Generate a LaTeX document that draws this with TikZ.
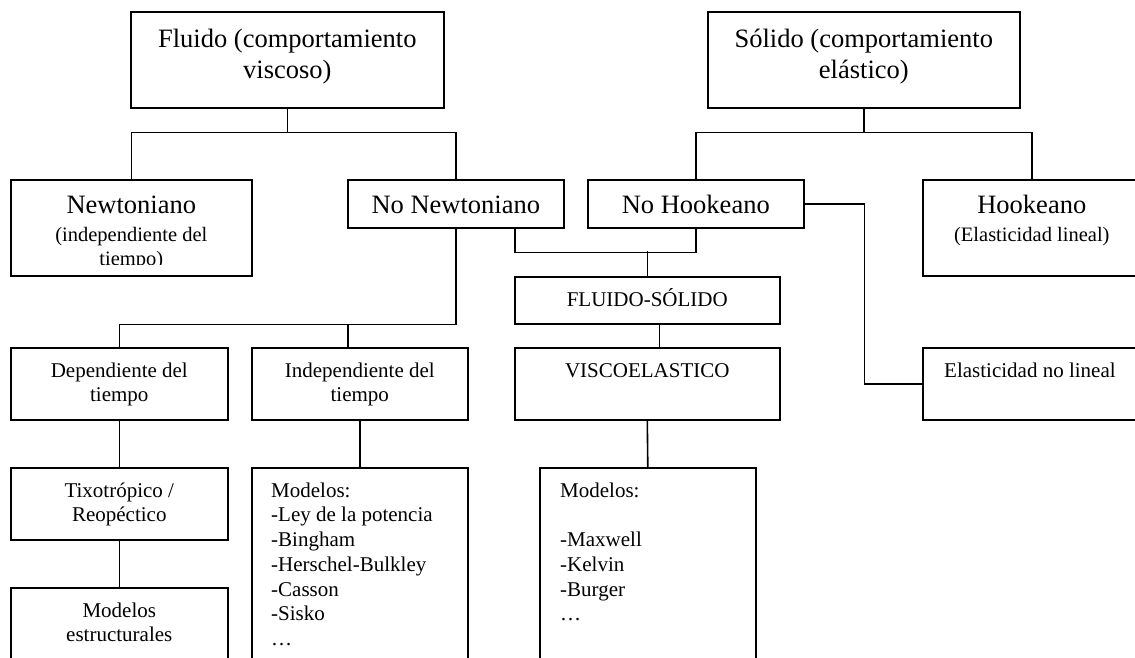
\documentclass[tikz,border=0pt]{standalone}
\usepackage{fontspec}
\setmainfont{Liberation Serif}
\usepackage{tikz}
\usetikzlibrary{positioning}
\newcommand{\grande}{\fontsize{26.5}{31}\selectfont}
\newcommand{\medio}{\fontsize{20.5}{24}\selectfont}
\newcommand{\chico}{\fontsize{21}{24.7}\selectfont}
\tikzstyle{caja} = [draw,line width=1.6pt,inner sep=0pt,anchor=north west]
\tikzstyle{linea} = [line width=1.6pt]
\tikzstyle{tgrande} = [inner sep=0pt,align=center,font=\grande]
\tikzstyle{tmedio} = [inner sep=0pt,align=center,font=\medio]
\tikzstyle{tchico} = [inner sep=0pt,align=center,font=\chico]

\begin{document}
\begin{tikzpicture}[x=1pt,y=-1pt]
  \useasboundingbox (0,0) rectangle (1135,657);
  \clip (0,0) rectangle (1135,657); % las cajas de abajo se salen de la hoja

  % cajas de arriba
  \node[caja,minimum width=313pt,minimum height=96pt] (fluido) at (130,11) {};
  \node[caja,minimum width=312pt,minimum height=96pt] (solido) at (707,11) {};
  % segundo nivel
  \node[caja,minimum width=241pt,minimum height=96pt] (newt) at (10,179) {};
  \node[caja,minimum width=216pt,minimum height=48pt] (nonewt) at (347,179) {};
  \node[caja,minimum width=216pt,minimum height=48pt] (nohook) at (587,179) {};
  \node[caja,minimum width=218pt,minimum height=96pt] (hook) at (922,179) {};
  \node[caja,minimum width=265pt,minimum height=47pt] (flsol) at (514,276) {};
  % tercer nivel
  \node[caja,minimum width=217pt,minimum height=72pt] (dep) at (10,347) {};
  \node[caja,minimum width=216pt,minimum height=72pt] (indep) at (251,347) {};
  \node[caja,minimum width=265pt,minimum height=72pt] (visco) at (514,347) {};
  \node[caja,minimum width=218pt,minimum height=72pt] (elast) at (922,347) {};
  % abajo
  \node[caja,minimum width=217pt,minimum height=72pt] (tixo) at (10,467) {};
  \node[caja,minimum width=216pt,minimum height=230pt] (modnn) at (251,467) {};
  \node[caja,minimum width=216pt,minimum height=230pt] (modve) at (539,467) {};
  \node[caja,minimum width=217pt,minimum height=110pt] (estruc) at (10,587) {};

  % textos
  \node[tgrande,below=14.3pt of fluido.north] (fluidot) {\strut Fluido (comportamiento\\viscoso)};
  \node[tgrande,below=14.3pt of solido.north] (solidot) {\strut Sólido (comportamiento\\elástico)};
  \node[tgrande,below=12.3pt of newt.north] (newtt) {\strut Newtoniano};
  \begin{scope}
    \clip (newt.north west) rectangle ([yshift=12pt]newt.south east);
    \node[tmedio,below=45.2pt of newt.north] (newts) {\strut (independiente del\\tiempo)};
  \end{scope}
  \node[tgrande,below=12.3pt of nonewt.north] (nonewtt) {\strut No Newtoniano};
  \node[tgrande,below=12.3pt of nohook.north] (nohookt) {\strut No Hookeano};
  \node[tgrande,below=12.3pt of hook.north] (hookt) {\strut Hookeano};
  \node[tmedio,below=45.2pt of hook.north] (hooks) {\strut (Elasticidad lineal)};
  \node[tchico,below=12.7pt of flsol.north] (flsolt) {\strut FLUIDO-SÓLIDO};
  \node[tchico,below=12.7pt of dep.north] (dept) {\strut Dependiente del\\tiempo};
  \node[tchico,below=12.7pt of indep.north] (indept) {\strut Independiente del\\tiempo};
  \node[tchico,below=12.7pt of visco.north] (viscot) {\strut VISCOELASTICO};
  \node[tchico,align=left,below right=12.7pt and 22pt of elast.north west] (elastt) {\strut Elasticidad no lineal};
  \node[tchico,below=12.7pt of tixo.north] (tixot) {\strut Tixotrópico /\\Reopéctico};
  \node[tchico,below=12.7pt of estruc.north] (estruct) {\strut Modelos\\estructurales};
  \node[tchico,align=left,below right=12.7pt and 20pt of modnn.north west] (modnnt)
    {\strut Modelos:\\-Ley de la potencia\\-Bingham\\-Herschel-Bulkley\\-Casson\\-Sisko\\…};
  \node[tchico,align=left,below right=12.7pt and 21pt of modve.north west] (modvet)
    {\strut Modelos:\\\strut\\-Maxwell\\-Kelvin\\-Burger\\…};

  % conectores
  \draw[linea] (fluido.south) -- ++(0,24) coordinate (fb);
  \draw[linea] (newt.north) |- (fb) -| (nonewt.north);
  \draw[linea] (solido.south) -- ++(0,24) coordinate (sb);
  \draw[linea] (nohook.north) |- (sb) -| (hook.north);
  \draw[linea] (nonewt.south) -- ++(0,96) coordinate (nb);
  \draw[linea] (dep.north) |- (nb);
  \draw[linea] ([xshift=-12pt]indep.north) -- ([xshift=-12pt]indep.north |- nb);
  % fluido-solido
  \draw[linea] ([xshift=59pt]nonewt.south) -- ++(0,24) -| (nohook.south);
  \draw[linea] (flsol.north) -- ++(0,-25);
  \draw[linea] ([xshift=12pt]flsol.south) -- ([xshift=12pt]visco.north);
  \draw[linea] (visco.south) -- (modve.north);
  \draw[linea] (nohook.east) -- ++(60,0) |- (elast.west);
  \draw[linea] (dep.south) -- (tixo.north);
  \draw[linea] (tixo.south) -- (estruc.north);
  \draw[linea] (indep.south) -- (modnn.north);
\end{tikzpicture}
\end{document}
